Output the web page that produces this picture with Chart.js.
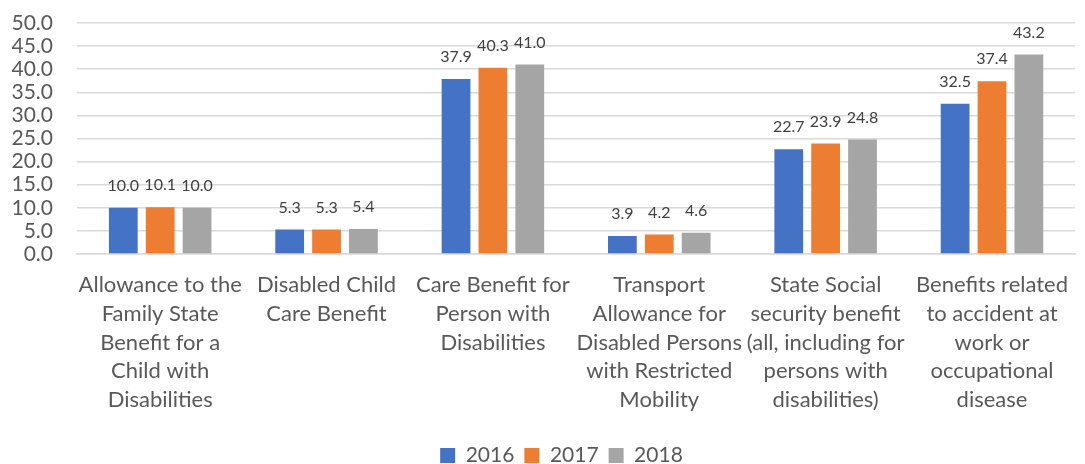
<!DOCTYPE html>
<html>
<head>
<meta charset="utf-8">
<script src="https://cdn.jsdelivr.net/npm/chart.js@4/dist/chart.umd.min.js"></script>
<style>
html,body{margin:0;padding:0;background:#fff;}
#wrap{width:1085px;height:464px;}
</style>
</head>
<body>
<div id="wrap"><canvas id="c" width="1085" height="464"></canvas></div>
<script>
const categories = [
  ["Allowance to the","Family State","Benefit for a","Child with","Disabilities"],
  ["Disabled Child","Care Benefit"],
  ["Care Benefit for","Person with","Disabilities"],
  ["Transport","Allowance for","Disabled Persons","with Restricted","Mobility"],
  ["State Social","security benefit","(all, including for","persons with","disabilities)"],
  ["Benefits related","to accident at","work or","occupational","disease"]
];
const seriesNames = ["2016","2017","2018"];
const values2016 = [10.0, 5.3, 37.9, 3.9, 22.7, 32.5];
const values2017 = [10.1, 5.3, 40.3, 4.2, 23.9, 37.4];
const values2018 = [10.0, 5.4, 41.0, 4.6, 24.8, 43.2];
const colors = ["#4472C4","#ED7D31","#A5A5A5"];
const yMin = 0, yMax = 50, yStep = 5;

const FONT = "Lato, 'Liberation Sans', sans-serif";

const dataLabels = {
  id: 'dataLabels',
  afterDatasetsDraw(chart) {
    const ctx = chart.ctx;
    ctx.save();
    ctx.font = "16px " + FONT;
    ctx.fillStyle = "#404040";
    ctx.textAlign = "center";
    ctx.textBaseline = "middle";
    chart.data.datasets.forEach((ds, i) => {
      const meta = chart.getDatasetMeta(i);
      meta.data.forEach((bar, j) => {
        ctx.fillText(ds.data[j].toFixed(1), bar.x, bar.y - 22);
      });
    });
    ctx.restore();
  }
};

// shift the legend block slightly right, as in the reference
const legendShift = {
  id: 'legendShift',
  afterLayout(chart) {
    if (chart.legend) { chart.legend.left += 19; chart.legend.right += 19; }
  }
};

new Chart(document.getElementById('c'), {
  type: 'bar',
  data: {
    labels: categories,
    datasets: [
      {label: seriesNames[0], data: values2016, backgroundColor: colors[0]},
      {label: seriesNames[1], data: values2017, backgroundColor: colors[1]},
      {label: seriesNames[2], data: values2018, backgroundColor: colors[2]}
    ]
  },
  options: {
    responsive: false,
    animation: false,
    devicePixelRatio: 1,
    categoryPercentage: 0.665,
    barPercentage: 0.78,
    layout: {padding: {top: 23, right: 0, left: 0, bottom: -12}},
    plugins: {
      legend: {
        position: 'bottom',
        labels: {
          font: {size: 21, family: FONT},
          color: "#595959",
          boxWidth: 15,
          boxHeight: 15,
          padding: 10
        }
      },
      tooltip: {enabled: false}
    },
    scales: {
      y: {
        min: yMin, max: yMax,
        ticks: {
          stepSize: yStep,
          autoSkip: false,
          font: {size: 21, family: FONT},
          color: "#595959",
          padding: 0,
          callback: v => Number(v).toFixed(1)
        },
        grid: {color: "#D9D9D9", lineWidth: 1.5, drawTicks: true, tickLength: 24, tickColor: "rgba(0,0,0,0)"},
        border: {display: false},
        afterFit(s) { s.width = 77; }
      },
      x: {
        ticks: {
          font: {size: 22, family: FONT, lineHeight: 1.3},
          color: "#595959",
          maxRotation: 0,
          autoSkip: false,
          padding: 17
        },
        grid: {display: false, drawTicks: false},
        border: {color: "#D9D9D9", width: 1.5},
        afterFit(s) { s.height = 181; }
      }
    }
  },
  plugins: [dataLabels, legendShift]
});
</script>
</body>
</html>
